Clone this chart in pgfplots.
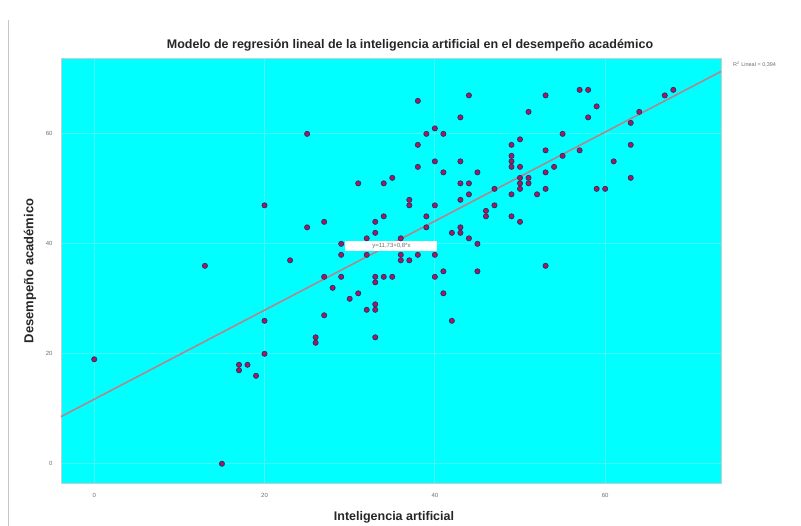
\documentclass[border=0pt]{standalone}
\usepackage{pgfplots}
\pgfplotsset{compat=1.18}
\usepackage{fontspec}
\setmainfont{Liberation Sans}
\definecolor{bgcyan}{RGB}{0,255,255}
\definecolor{gridc}{RGB}{70,245,245}
\definecolor{ptfill}{RGB}{170,25,85}
\definecolor{ptdraw}{RGB}{30,50,120}
\definecolor{fitc}{RGB}{175,135,145}
\definecolor{tickc}{RGB}{110,110,110}
\begin{document}
\begin{tikzpicture}[x=1pt,y=1pt]
\path[use as bounding box] (0,0) rectangle (801,526);
\draw[gray!45, line width=1pt] (8,0) -- (8,506);
\begin{axis}[
  at={(61pt,43pt)}, anchor=south west,
  scale only axis, width=660pt, height=425pt,
  xmin=-3.9, xmax=73.6, ymin=-3.5, ymax=73.8,
  axis background/.style={fill=bgcyan},
  axis line style={draw=gray!40, line width=0.4pt},
  xtick={0,20,40,60}, ytick={0,20,40,60},
  major tick length=0pt,
  grid=major, major grid style={draw=gridc, line width=0.8pt},
  tick label style={font=\fontsize{6}{7}\selectfont, text=tickc},
  /pgf/number format/assume math mode=true,
  xticklabel style={yshift=-7pt},
  yticklabel style={xshift=-5pt},
  clip=false,
]
\addplot[fitc, line width=1.6pt] coordinates {(-3.9,8.57) (73.6,71.35)};
\addplot[only marks, mark=*, mark size=2.6pt, mark options={fill=ptfill, draw=ptdraw, line width=0.7pt}] coordinates {
(0,19) (13,36) (15,0) (17,18) (17,17) (18,18) (19,16)
(20,47) (20,26) (20,20) (23,37) (25,60) (25,43) (26,23) (26,22)
(27,44) (27,34) (27,27) (28,32) (29,40) (29,38) (29,34) (30,30)
(31,51) (31,31) (32,41) (32,38) (32,28)
(33,44) (33,42) (33,34) (33,33) (33,29) (33,28) (33,23)
(34,51) (34,45) (34,34) (35,52) (35,34) (36,41) (36,38) (36,37)
(37,48) (37,47) (37,37) (38,66) (38,58) (38,54) (38,38)
(39,60) (39,45) (39,43) (40,61) (40,55) (40,47) (40,38) (40,34)
(41,60) (41,53) (41,35) (41,31) (42,42) (42,26)
(43,63) (43,55) (43,51) (43,48) (43,43) (43,42)
(44,67) (44,51) (44,49) (44,41) (45,53) (45,40) (45,35)
(46,46) (46,45) (47,50) (47,47)
(49,58) (49,56) (49,55) (49,54) (49,49) (49,45)
(50,59) (50,54) (50,52) (50,51) (50,50) (50,44)
(51,64) (51,52) (51,51) (52,49)
(53,67) (53,57) (53,53) (53,50) (53,36) (54,54) (55,60) (55,56)
(57,68) (57,57) (58,68) (58,63) (59,65) (59,50) (60,50) (61,55)
(63,62) (63,58) (63,52) (64,64) (67,67) (68,68)
};
\node[fill=white, minimum width=92pt, minimum height=10pt, inner sep=0pt, text=tickc, font=\fontsize{6}{7}\selectfont] at (axis cs:34.9,39.6) {y=11,73+0,8*x};
\end{axis}
\node[font=\bfseries\fontsize{12.5}{14}\selectfont, text=black!85] at (410,481) {Modelo de regresión lineal de la inteligencia artificial en el desempeño académico};
\node[font=\bfseries\fontsize{13}{15}\selectfont, text=black!85, rotate=90] at (30,255) {Desempeño académico};
\node[font=\bfseries\fontsize{12.5}{14}\selectfont, text=black!85] at (394,9) {Inteligencia artificial};
\node[anchor=west, font=\fontsize{5.5}{6}\selectfont, text=tickc, inner sep=0pt] at (733,461) {R\textsuperscript{2} Lineal = 0,394};
\end{tikzpicture}
\end{document}
